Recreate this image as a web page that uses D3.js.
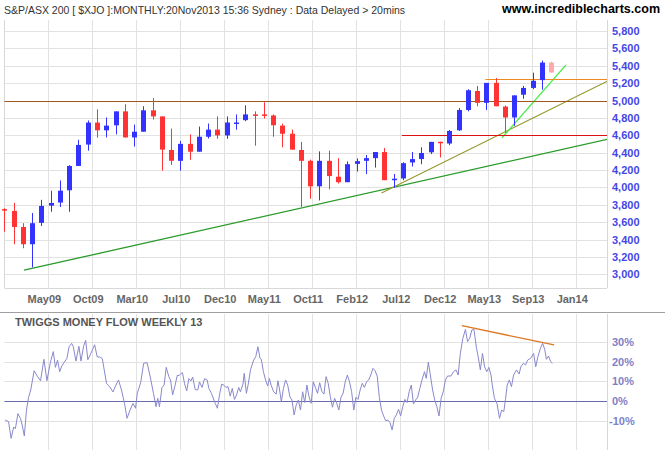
<!DOCTYPE html>
<html>
<head>
<meta charset="utf-8">
<script src="https://cdn.jsdelivr.net/npm/d3@7"></script>
<style>
body { margin:0; background:#fff; }
svg { display:block; font-family:"Liberation Sans", Arial, sans-serif; }
</style>
</head>
<body>
<svg id="chart" width="665" height="450"></svg>
<script>
// monthly candles, Dec08 .. Nov13
var opens  = [3750,3729,3545,3346,3592,3790,3826,3967,4247,4493,4746,4657,4715,4875,4575,4641,4887,4817,4431,4306,4501,4411,4583,4665,4598,4735,4774,4840,4840,4828,4711,4618,4431,4306,4013,4306,4123,4060,4271,4306,4337,4407,4090,4103,4287,4326,4404,4525,4505,4657,4891,5110,4973,5203,4930,4805,5067,5145,5235,5437];
var closes = [3745,3545,3346,3588,3787,3821,3962,4247,4489,4746,4657,4711,4875,4575,4641,4887,4817,4435,4306,4501,4411,4583,4665,4598,4747,4747,4840,4835,4835,4715,4618,4435,4306,4013,4306,4130,4060,4267,4302,4337,4407,4083,4100,4279,4326,4396,4524,4520,4650,4891,5118,4973,5203,4934,4805,5059,5145,5227,5437,5323];
var highs  = [3760,3822,3588,3705,3857,3962,4080,4255,4548,4770,4899,4805,4875,4957,4723,4934,5027,4817,4677,4536,4610,4700,4735,4817,4817,4840,4945,4875,4980,4840,4735,4665,4524,4320,4415,4423,4337,4299,4334,4372,4407,4454,4154,4290,4407,4462,4524,4525,4661,4914,5130,5168,5203,5258,4942,5059,5168,5320,5460,5448];
var lows   = [3490,3346,3300,3080,3556,3720,3775,3720,4247,4423,4571,4575,4610,4575,4470,4641,4781,4193,4259,4193,4318,4411,4563,4559,4559,4664,4762,4480,4793,4583,4462,4435,3775,3869,3850,3978,4045,4060,4182,4154,4228,4083,3995,4083,4240,4267,4384,4345,4486,4650,4875,4934,4891,4934,4630,4708,5020,5130,5125,5320];
var priceTicks = [3000,3200,3400,3600,3800,4000,4200,4400,4600,4800,5000,5200,5400,5600,5800];
var monthTickPos = [4.75,9.49,14.24,18.98,23.73,28.48,33.22,37.97,42.72,47.46,52.21,56.95,61.7];
var monthTickLabels = ["May09","Oct09","Mar10","Jul10","Dec10","May11","Oct11","Feb12","Jul12","Dec12","May13","Sep13","Jan14"];

// Twiggs money flow weekly 13 (week number, percent)
var tmfWeek = [2.4,4,5.2,6.4,7.2,8.4,9.6,10.4,11.4,12.4,13.4,14.4,16,17.6,19,20.6,22,23.6,25,26,27,28,29,30,31.4,32.4,33.6,34.4,35.6,37,38,39.2,40.2,41.2,42.4,43.6,44.4,45.6,46.8,48,50,51.4,53,54.4,55.6,57,58.4,59.6,61,62.4,63.6,64.4,66,67.4,69,70.4,72,73.2,74,74.8,76,77,78,79.2,80,81,82,83.2,84,85,85.6,86.6,87.6,88.6,89.6,90.4,91.6,92.8,93.6,94.8,96,97.2,98,99.2,101,102,103,104,105,106,107,108,109,110,111,112,112.8,114,114.6,115.6,116.4,117.6,119,120,121,122,122.6,123.6,124.6,125.6,126.4,127.2,128.4,129.6,130.4,131.2,132,133,134,135,136,137,138,139,140,141,142,143,144,145,146,147,148,149,150,151,152,153,154,155,156,157,158,159,160,161,162,163,164,165,166,167,168,169,170,171,172,173,174,175,176,177,178,179,180,181,182,183,184,185,186,187,188,189,190,191,192,193,194,195,196,197,198,199.2,200,201,202,203,204,205,206,207,208,209,210,211.6,212.8,214,215,216,217.2,218.4,219.4,220.4,221.4,222.4,223.6,224.4,225.4,226.4,227.4,228.4,229.4,230.4,231,232,233.2,234.4,235.4,236.4,237.2,238,239,240,241,242.4,243.6,244.4,245.6,246.6,247.6,249,250.4,251.4,252.4,253.6,254.6,255.6,256.4,257.4,258.4,259.2];
var tmfPct = [-9.7,-10.5,-19,-13.2,-14.1,-6.4,-8.9,-12.2,-17.8,-4.6,1.9,5.6,15.4,12.4,10.3,21.2,10.3,19.5,25.1,17.1,20.8,14.9,17.8,19.5,21.7,27.6,29.3,27.6,20.3,27.8,20.3,27.8,30.8,21,23.6,26.6,28.6,22.4,22.4,21.5,8.8,7.3,4.6,8.1,10.7,5.6,-1.2,-8.8,-4.6,-1.2,-3.7,3.9,9.3,19.2,19.5,12.7,3.9,-2.9,1.4,-2.9,6.9,8.1,17.1,12.4,10.7,3.1,7.3,13.1,12.9,14.1,14.4,8.8,5.1,11.4,10.2,12.2,5.8,5.6,9.7,6.9,11.4,10.7,6.4,3.9,-1.2,-3.7,3.1,8.6,8.1,6.9,7.3,2.5,6.4,0.8,3.1,6.9,4.7,8.6,14.1,3.9,8.1,16.1,20.8,22.5,27.6,21.7,21.2,14.9,10.7,7.6,11.5,8.1,4.7,3.5,10.3,5.6,-0.3,6.4,10.7,8.1,2.2,0.5,-7.1,-2,0.5,-4.6,4.7,-0.8,8.1,2.2,-1.2,9.8,6.9,3.9,9.3,4.9,3.5,12.4,9,2.2,-3.2,1.4,-1.2,-4.6,1.9,3.9,9.8,13.2,9.8,4.7,-4.6,1.9,0.8,5.6,9,6.9,9.8,10.7,13.2,16.6,15.4,12.7,1.9,-4.6,-7.6,-10,-9.7,-11,-14.7,-8.8,-7.1,-4.2,-7.6,-2.9,0.8,-0.8,4.7,8.1,-1.5,0.5,1.9,6.4,10.7,14.9,11.5,19.8,12.7,5.6,0.5,-2.9,-7.6,1.4,4.7,10.7,12.7,12.7,14.9,15.8,13.2,24.2,31.9,36.4,30.2,31.9,36.1,36.4,26.8,22.5,15.8,24.2,17.4,14.9,17.1,13.2,8.1,1.4,-1.2,-8.8,-4.6,-5.4,0.8,8.1,10.7,7.3,13.2,15.8,13.7,17.4,19.2,18.3,20.8,21.7,24.2,17.4,22.5,26.8,29.3,26.3,21.2,22.9,20,19.2];
var tmfTicks = [-10,0,10,20,30];

// drawn trend lines [month, price] pairs
var trendLines = [
    {pts: [[2.13,3047],[65.3,4560]], color: "#2a9a2a", w: 1.3},
    {pts: [[40.7,3936],[65.3,5235]], color: "#9a9a30", w: 1.3},
    {pts: [[53.7,4571],[60.6,5410]], color: "#44ee44", w: 1.3},
    {pts: [[-1,5000],[65.3,5000]], color: "#a0581a", w: 1, flat: true},
    {pts: [[51.9,5253],[65.3,5253]], color: "#f08a20", w: 1, flat: true},
    {pts: [[42.9,4602],[65.3,4602]], color: "#dd1111", w: 1, flat: true}
];
var tmfTrend = [[216.7,38.3],[260,28.5]];

var svg = d3.select("#chart");
var plotL = 4.5, plotR = 607, plotT = 20, plotB = 288;

var x = d3.scaleLinear().domain([0, 59]).range([4.3, 551.2]);
var y = d3.scaleLinear().domain([3000, 5800]).range([274.3, 31]);
var weekToMonth = function(w){ return w / 4.35 - 0.46; };
var y2 = d3.scaleLinear().domain([0, 30]).range([401, 342]);

// grid
var grid = svg.append("g").attr("stroke", "#e2e2e2").attr("stroke-width", 1);
priceTicks.forEach(function(t){
    grid.append("line").attr("x1", plotL).attr("x2", plotR).attr("y1", Math.round(y(t)) + 0.5).attr("y2", Math.round(y(t)) + 0.5);
});
monthTickPos.forEach(function(t){
    var px = Math.round(x(t)) + 0.5;
    grid.append("line").attr("x1", px).attr("x2", px).attr("y1", plotT).attr("y2", plotB);
    grid.append("line").attr("x1", px).attr("x2", px).attr("y1", 314).attr("y2", 450);
});
tmfTicks.forEach(function(t){
    if (t !== 0) grid.append("line").attr("x1", plotL).attr("x2", plotR).attr("y1", Math.round(y2(t)) + 0.5).attr("y2", Math.round(y2(t)) + 0.5);
});
// frames
svg.append("line").attr("x1", plotL).attr("x2", plotL).attr("y1", plotT).attr("y2", plotB).attr("stroke", "#d8d8d8");
svg.append("line").attr("x1", plotL).attr("x2", plotR).attr("y1", plotB + 0.5).attr("y2", plotB + 0.5).attr("stroke", "#d8d8d8");
svg.append("line").attr("x1", plotR + 0.5).attr("x2", plotR + 0.5).attr("y1", plotT).attr("y2", plotB).attr("stroke", "#d8d8d8");
svg.append("line").attr("x1", plotR + 0.5).attr("x2", plotR + 0.5).attr("y1", 314).attr("y2", 450).attr("stroke", "#d8d8d8");
svg.append("line").attr("x1", 0).attr("x2", 665).attr("y1", 312.5).attr("y2", 312.5).attr("stroke", "#a0a0a0");

svg.append("clipPath").attr("id", "mainClip").append("rect").attr("x", plotL).attr("y", plotT).attr("width", plotR - plotL).attr("height", plotB - plotT);
svg.append("clipPath").attr("id", "tmfClip").append("rect").attr("x", plotL).attr("y", 314).attr("width", plotR - plotL).attr("height", 136);

var lineGen = d3.line().x(function(d){ return x(d[0]); }).y(function(d){ return y(d[1]); });
var trendG = svg.append("g").attr("clip-path", "url(#mainClip)");
trendLines.forEach(function(t){
    var p = trendG.append("path").attr("fill", "none").attr("stroke", t.color).attr("stroke-width", t.w);
    if (t.flat) {
        var yy = Math.round(y(t.pts[0][1])) + 0.5;
        p.attr("d", "M" + x(t.pts[0][0]) + "," + yy + "H" + x(t.pts[1][0]));
    } else {
        p.attr("d", lineGen(t.pts));
    }
});

// candles
var candles = d3.range(opens.length).map(function(i){
    return {i: i, o: opens[i], c: closes[i], h: highs[i], l: lows[i]};
});
var col = function(d){
    if (d.i === candles.length - 1) return "#ffaaaa";
    return d.c >= d.o ? "#3333ff" : "#ff3333";
};
var cg = svg.append("g").selectAll("g").data(candles).enter().append("g");
cg.append("line")
    .attr("x1", function(d){ return Math.round(x(d.i)) + 0.5; })
    .attr("x2", function(d){ return Math.round(x(d.i)) + 0.5; })
    .attr("y1", function(d){ return y(d.h); })
    .attr("y2", function(d){ return y(d.l); })
    .attr("stroke", col).attr("stroke-width", 1);
cg.append("rect")
    .attr("x", function(d){ return Math.round(x(d.i)) - 2; })
    .attr("width", 5)
    .attr("y", function(d){ return y(Math.max(d.o, d.c)); })
    .attr("height", function(d){ return Math.max(1.5, Math.abs(y(d.o) - y(d.c))); })
    .attr("fill", col);

// axis labels
svg.append("g").selectAll("text").data(priceTicks).enter().append("text")
    .attr("x", 612).attr("y", function(d){ return y(d) + 4; })
    .attr("font-size", 11).attr("font-weight", "bold").attr("fill", "#4646e6")
    .text(function(d){ return d3.format(",")(d); });
svg.append("g").selectAll("text").data(monthTickPos).enter().append("text")
    .attr("x", function(d){ return x(d) - 4; }).attr("y", 303)
    .attr("text-anchor", "middle")
    .attr("font-size", 11).attr("font-weight", "bold").attr("fill", "#666")
    .text(function(d, i){ return monthTickLabels[i]; });

svg.append("text").attr("x", 4).attr("y", 14).attr("font-size", 10.5).attr("fill", "#333")
    .text("S&P/ASX 200 [ $XJO ]:MONTHLY:20Nov2013 15:36 Sydney : Data Delayed > 20mins");
svg.append("text").attr("x", 660).attr("y", 13).attr("text-anchor", "end").attr("font-size", 12.5).attr("font-weight", "bold").attr("fill", "#000")
    .text("www.incrediblecharts.com");

// TMF panel
svg.append("text").attr("x", 15).attr("y", 326).attr("font-size", 11).attr("font-weight", "bold").attr("fill", "#555")
    .text("TWIGGS MONEY FLOW WEEKLY 13");
svg.append("line").attr("x1", plotL).attr("x2", plotR).attr("y1", Math.round(y2(0)) + 0.5).attr("y2", Math.round(y2(0)) + 0.5).attr("stroke", "#6a6aaa");
var tmfLine = d3.line()
    .x(function(d){ return x(weekToMonth(d[0])); })
    .y(function(d){ return y2(d[1]); });
var tmfData = tmfWeek.map(function(w, i){ return [w, tmfPct[i]]; });
var tg = svg.append("g").attr("clip-path", "url(#tmfClip)");
tg.append("path").attr("d", tmfLine(tmfData)).attr("fill", "none").attr("stroke", "#8888cc").attr("stroke-width", 1);
tg.append("path").attr("d", tmfLine(tmfTrend)).attr("fill", "none").attr("stroke", "#dd7722").attr("stroke-width", 1.3);
svg.append("g").selectAll("text").data(tmfTicks).enter().append("text")
    .attr("x", function(d){ return d < 0 ? 609 : 612; }).attr("y", function(d){ return y2(d) + 4; })
    .attr("font-size", 11).attr("font-weight", "bold").attr("fill", "#8080c8")
    .text(function(d){ return d + "%"; });
</script>
</body>
</html>
